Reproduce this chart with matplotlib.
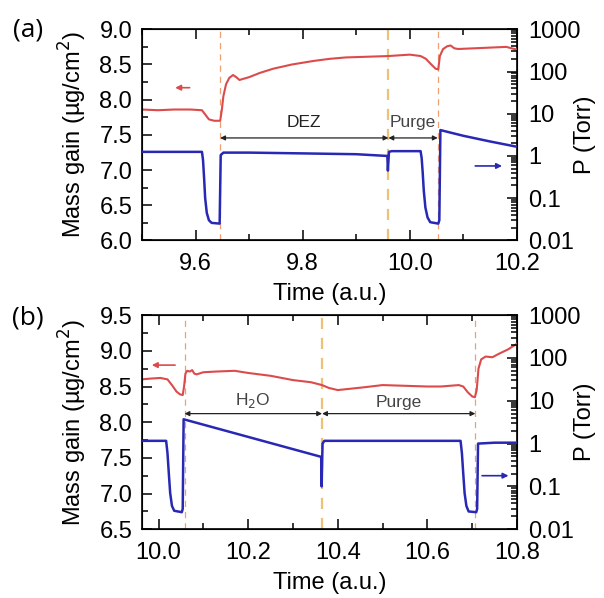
import numpy as np
import matplotlib
matplotlib.use("Agg")
import matplotlib.pyplot as plt
from matplotlib.ticker import MultipleLocator, LogLocator, NullFormatter

plt.rcParams['font.family'] = ['Liberation Sans', 'DejaVu Sans']

# ---- (a) DEZ pulse ----
t_mass_a = [9.50, 9.53, 9.56, 9.59, 9.612, 9.618, 9.625, 9.635, 9.646, 9.649, 9.652,
            9.657, 9.663, 9.670, 9.676, 9.682, 9.70, 9.72, 9.745, 9.78, 9.82, 9.85,
            9.88, 9.92, 9.96, 9.98, 10.00, 10.02, 10.030, 10.040, 10.048, 10.053,
            10.056, 10.062, 10.070, 10.076, 10.083, 10.090, 10.12, 10.15, 10.18, 10.20]
mass_a = [7.86, 7.85, 7.86, 7.86, 7.85, 7.79, 7.72, 7.70, 7.70, 7.85, 8.05,
          8.22, 8.31, 8.35, 8.32, 8.28, 8.32, 8.38, 8.44, 8.50, 8.55, 8.58,
          8.60, 8.61, 8.62, 8.63, 8.64, 8.62, 8.58, 8.50, 8.44, 8.43,
          8.62, 8.72, 8.76, 8.77, 8.73, 8.72, 8.73, 8.74, 8.75, 8.71]

t_p_a = [9.50, 9.612, 9.614, 9.616, 9.618, 9.621, 9.625, 9.630, 9.645, 9.647, 9.652,
         9.70, 9.80, 9.90, 9.958, 9.959, 9.961, 9.966, 10.00, 10.020, 10.022, 10.024,
         10.026, 10.029, 10.033, 10.038, 10.053, 10.055, 10.057, 10.10, 10.15, 10.20]
p_a = [1.25, 1.25, 0.8, 0.3, 0.1, 0.045, 0.03, 0.026, 0.025, 1.05, 1.2,
       1.2, 1.15, 1.1, 1.0, 0.45, 1.25, 1.3, 1.3, 1.3, 0.9, 0.4,
       0.15, 0.06, 0.035, 0.027, 0.025, 0.03, 4.1, 3.0, 2.2, 1.65]

# ---- (b) H2O pulse ----
t_mass_b = [9.963, 9.98, 10.004, 10.02, 10.03, 10.04, 10.048, 10.054, 10.057, 10.060,
            10.064, 10.070, 10.075, 10.080, 10.085, 10.10, 10.13, 10.17, 10.20, 10.25,
            10.30, 10.34, 10.365, 10.38, 10.40, 10.43, 10.46, 10.50, 10.55, 10.60,
            10.63, 10.67, 10.68, 10.69, 10.700, 10.706, 10.710, 10.714, 10.720, 10.73,
            10.745, 10.76, 10.78, 10.80]
mass_b = [8.60, 8.61, 8.62, 8.60, 8.52, 8.43, 8.39, 8.38, 8.50, 8.68,
          8.72, 8.71, 8.73, 8.68, 8.67, 8.70, 8.71, 8.72, 8.69, 8.65,
          8.59, 8.56, 8.52, 8.48, 8.45, 8.47, 8.49, 8.52, 8.51, 8.50,
          8.50, 8.52, 8.50, 8.42, 8.36, 8.35, 8.45, 8.75, 8.88, 8.92,
          8.91, 8.96, 9.02, 9.10]

t_p_b = [9.963, 10.017, 10.020, 10.023, 10.026, 10.030, 10.035, 10.052, 10.054, 10.056,
         10.363, 10.364, 10.366, 10.370, 10.40, 10.60, 10.674, 10.677, 10.680, 10.683,
         10.687, 10.692, 10.709, 10.711, 10.713, 10.75, 10.80]
p_b = [1.16, 1.16, 0.6, 0.2, 0.07, 0.035, 0.027, 0.025, 0.03, 3.7,
       0.49, 0.1, 1.0, 1.16, 1.16, 1.16, 1.16, 0.6, 0.2, 0.07,
       0.035, 0.026, 0.025, 0.03, 1.0, 1.05, 1.05]

# pulse boundaries (dashed lines)
edges_a = [9.646, 9.960, 10.052]
edges_b = [10.058, 10.365, 10.707]

p_ticks = [0.01, 0.1, 1, 10, 100, 1000]
p_labels = ['0.01', '0.1', '1', '10', '100', '1000']

red = '#dc4b4b'
blue = '#2828b4'
fs = 17

fig = plt.figure(figsize=(6.04, 5.98), dpi=100)
ax_a = fig.add_axes([0.235, 0.598, 0.621, 0.353])
ax_b = fig.add_axes([0.235, 0.115, 0.621, 0.358])


def setup(ax, xlim, ylim, xmaj, ymaj):
    ax.set_xlim(*xlim)
    ax.set_ylim(*ylim)
    ax.xaxis.set_major_locator(MultipleLocator(xmaj))
    ax.xaxis.set_minor_locator(MultipleLocator(xmaj / 2))
    ax.yaxis.set_major_locator(MultipleLocator(ymaj))
    ax.yaxis.set_minor_locator(MultipleLocator(ymaj / 2))
    ax.tick_params(which='both', direction='in', top=True, width=1.1, labelsize=fs)
    ax.tick_params(which='major', length=7)
    ax.tick_params(which='minor', length=4)
    ax.tick_params(axis='x', pad=9)
    ax.tick_params(axis='y', pad=7)
    for s in ax.spines.values():
        s.set_linewidth(1.2)
    ax.set_ylabel(u'Mass gain (\u00b5g/cm$^2$)', fontsize=17)
    ax.set_xlabel('Time (a.u.)', fontsize=17)
    ax.yaxis.set_label_coords(-0.185, 0.5)
    ax.yaxis.label.set_va('center')
    ax.xaxis.label.set_va('center')


def twin(ax):
    ax2 = ax.twinx()
    ax2.set_yscale('log')
    ax2.set_ylim(0.01, 1000)
    ax2.set_yticks(p_ticks)
    ax2.set_yticklabels(p_labels)
    ax2.yaxis.set_minor_locator(LogLocator(base=10, subs=np.arange(2, 10)))
    ax2.yaxis.set_minor_formatter(NullFormatter())
    ax2.tick_params(which='both', direction='in', width=1.1, labelsize=fs, pad=8)
    ax2.tick_params(which='major', length=7)
    ax2.tick_params(which='minor', length=4)
    ax2.set_ylabel('P (Torr)', fontsize=17)
    ax2.yaxis.set_label_coords(1.18, 0.5)
    ax2.yaxis.label.set_va('center')
    return ax2


def span(ax, x0, x1, y, text, ty, color='#222222'):
    ax.annotate('', xy=(x0, y), xytext=(x1, y),
                arrowprops=dict(arrowstyle='<|-|>', color='#222222', lw=0.9,
                                mutation_scale=7, shrinkA=0, shrinkB=0))
    ax.text((x0 + x1) / 2, ty, text, ha='center', va='center', fontsize=12.5, color=color)


def pointer(ax, x_from, x_to, y, color):
    ax.annotate('', xy=(x_to, y), xytext=(x_from, y),
                arrowprops=dict(arrowstyle='-|>', color=color, lw=1.2,
                                mutation_scale=8, shrinkA=0, shrinkB=0))


# panel (a)
setup(ax_a, (9.5, 10.2), (6.0, 9.0), 0.2, 0.5)
ax_a.xaxis.set_label_coords(0.5, -0.255)
for i, x in enumerate(edges_a):
    if i == 1:
        ax_a.axvline(x, color='#ecc278', lw=1.6, ls=(0, (5, 4)), zorder=1)
    else:
        ax_a.axvline(x, color='#f0a070', lw=0.9, ls=(0, (5, 4)), zorder=1)
ax_a.plot(t_mass_a, mass_a, color=red, lw=1.5, zorder=3)
span(ax_a, edges_a[0], edges_a[1], 7.456, 'DEZ', 7.67)
span(ax_a, edges_a[1], edges_a[2], 7.456, 'Purge', 7.68, color='#444444')
pointer(ax_a, 9.589, 9.562, 8.17, red)
pa = twin(ax_a)
pa.plot(t_p_a, p_a, color=blue, lw=1.8, zorder=3)
pointer(pa, 10.122, 10.172, 0.58, blue)

# panel (b)
setup(ax_b, (9.963, 10.8), (6.5, 9.5), 0.2, 0.5)
ax_b.xaxis.set_label_coords(0.5, -0.25)
for i, x in enumerate(edges_b):
    if i == 1:
        ax_b.axvline(x, color='#ecc278', lw=1.6, ls=(0, (5, 4)), zorder=1)
    else:
        ax_b.axvline(x, color='#f0a070', lw=0.9, ls=(0, (5, 4)), zorder=1)
ax_b.plot(t_mass_b, mass_b, color=red, lw=1.5, zorder=3)
span(ax_b, edges_b[0], edges_b[1], 8.12, 'H$_2$O', 8.30, color='#444444')
span(ax_b, edges_b[1], edges_b[2], 8.12, 'Purge', 8.27, color='#444444')
pointer(ax_b, 10.037, 9.985, 8.80, red)
pb = twin(ax_b)
pb.plot(t_p_b, p_b, color=blue, lw=1.8, zorder=3)
pointer(pb, 10.722, 10.781, 0.178, blue)

fig.text(0.046, 0.949, '(a)', fontsize=19, family=['Open Sans', 'DejaVu Sans'],
         ha='center', va='center')
fig.text(0.046, 0.468, '(b)', fontsize=19, family=['Open Sans', 'DejaVu Sans'],
         ha='center', va='center')

fig.savefig('out.png', dpi=100)
